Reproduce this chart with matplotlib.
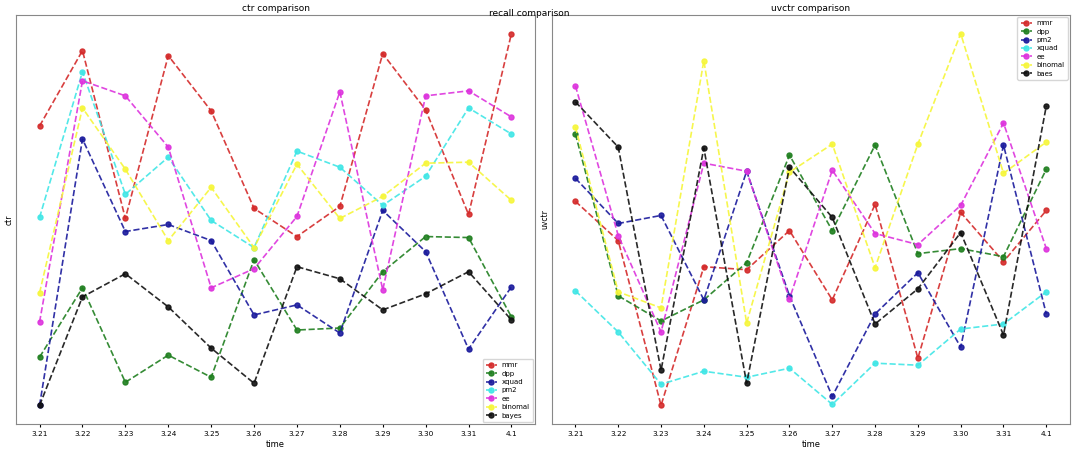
import matplotlib
matplotlib.use('Agg')
import matplotlib.pyplot as plt

# no y tick labels in the source, so values are relative heights
dates = ['3.21', '3.22', '3.23', '3.24', '3.25', '3.26', '3.27', '3.28', '3.29', '3.30', '3.31', '4.1']

ctr_mmr = [297, 372, 205, 367, 312, 215, 187, 217, 369, 313, 209, 389]
ctr_dpp = [67, 136, 42, 69, 47, 164, 94, 96, 152, 187, 186, 107]
ctr_xquad = [19, 284, 192, 199, 183, 109, 119, 91, 213, 172, 75, 137]
ctr_pm2 = [206, 351, 229, 266, 203, 176, 272, 256, 218, 247, 315, 289]
ctr_ee = [102, 342, 327, 276, 136, 155, 207, 331, 134, 327, 332, 306]
ctr_binomal = [131, 315, 254, 183, 236, 176, 259, 205, 227, 260, 261, 223]
ctr_bayes = [19, 127, 150, 117, 76, 41, 157, 145, 114, 130, 152, 104]

uv_mmr = [222, 183, 19, 157, 154, 193, 124, 219, 66, 211, 162, 213]
uv_dpp = [289, 128, 103, 124, 161, 268, 193, 278, 170, 175, 167, 254]
uv_pm2 = [245, 200, 208, 124, 252, 128, 28, 110, 151, 77, 278, 110]
uv_xquad = [133, 92, 40, 53, 47, 56, 20, 61, 59, 95, 100, 132]
uv_ee = [337, 188, 92, 260, 252, 125, 253, 190, 179, 218, 300, 175]
uv_binomal = [296, 132, 116, 362, 101, 251, 279, 156, 279, 389, 250, 281]
uv_baes = [321, 276, 54, 275, 41, 256, 206, 100, 135, 191, 89, 317]

colors = {'red': '#d42a2a', 'green': '#1f7f1f', 'blue': '#1a1a9c',
          'cyan': '#40e6e6', 'magenta': '#dd33dd', 'yellow': '#f6f63a', 'black': '#111111'}

plt.rcParams['font.size'] = 6

fig = plt.figure(figsize=(10.8, 4.5), dpi=100)
ax1 = fig.add_axes([0.0148, 0.0578, 0.4806, 0.909])
ax2 = fig.add_axes([0.511, 0.0578, 0.4796, 0.909])

left_series = [('mmr', ctr_mmr, 'red'), ('dpp', ctr_dpp, 'green'), ('xquad', ctr_xquad, 'blue'),
               ('pm2', ctr_pm2, 'cyan'), ('ee', ctr_ee, 'magenta'),
               ('binomal', ctr_binomal, 'yellow'), ('bayes', ctr_bayes, 'black')]
right_series = [('mmr', uv_mmr, 'red'), ('dpp', uv_dpp, 'green'), ('pm2', uv_pm2, 'blue'),
                ('xquad', uv_xquad, 'cyan'), ('ee', uv_ee, 'magenta'),
                ('binomal', uv_binomal, 'yellow'), ('baes', uv_baes, 'black')]

for ax, series, title, ylab, loc in [(ax1, left_series, 'ctr comparison', 'ctr', 'lower right'),
                                     (ax2, right_series, 'uvctr comparison', 'uvctr', 'upper right')]:
    for name, vals, c in series:
        ax.plot(dates, vals, linestyle='--', marker='o', markersize=3.6, linewidth=1.2,
                color=colors[c], alpha=0.9, label=name)
    ax.set_title(title, fontsize=6.5, pad=3)
    ax.set_xlabel('time', fontsize=6, labelpad=2)
    ax.set_ylabel(ylab, fontsize=5.5, labelpad=2)
    ax.set_yticks([])
    ax.tick_params(axis='x', labelsize=5.3, length=2, pad=3)
    for s in ax.spines.values():
        s.set_color('#888888')
    ax.legend(loc=loc, fontsize=5, handlelength=1.6, labelspacing=0.35, borderpad=0.45,
              handletextpad=0.7, borderaxespad=0.3)

fig.text(0.49, 0.965, 'recall comparison', ha='center', fontsize=6.5)

fig.savefig('out.png', dpi=100)
